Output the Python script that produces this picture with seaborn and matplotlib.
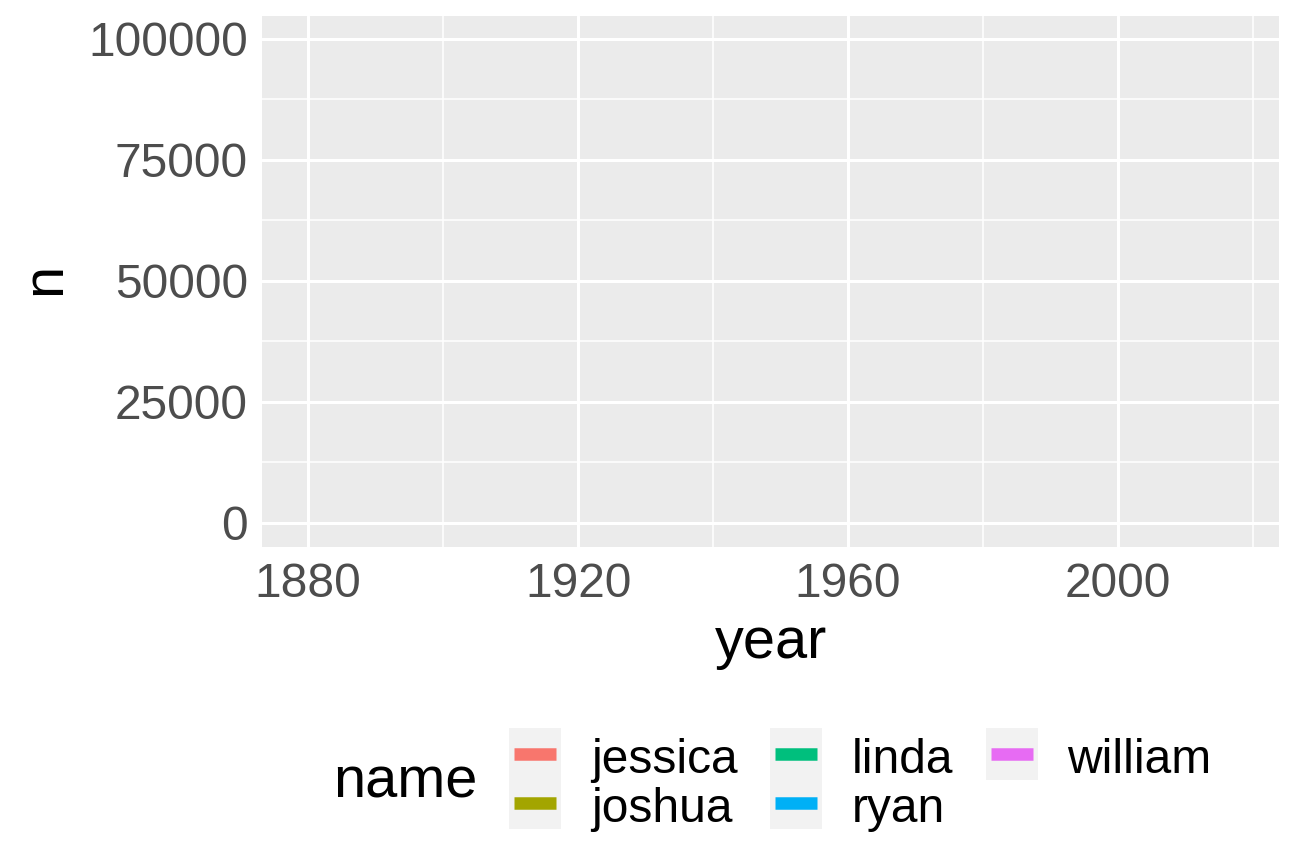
import matplotlib
matplotlib.use("Agg")
import matplotlib.pyplot as plt
import matplotlib.ticker as mticker
from matplotlib.lines import Line2D
from matplotlib.patches import Rectangle
from matplotlib.legend_handler import HandlerLine2D
import seaborn as sns
import pandas as pd

#### Data
names = ["jessica", "joshua", "linda", "ryan", "william"]
name_colors = ["#F8766D", "#A3A500", "#00BF7D", "#00B0F6", "#E76BF3"]
year_range = [1880, 2017]
n_range = [0, 99689]
x_major = [1880, 1920, 1960, 2000]
x_minor = [1900, 1940, 1980, 2020]
y_major = [0, 25000, 50000, 75000, 100000]
y_minor = [12500, 37500, 62500, 87500]

frame = pd.DataFrame({"name": names, "color": name_colors})

#### Theme (ggplot grey look)
sns.set_theme(style="darkgrid", rc={
    "axes.facecolor": "#EBEBEB",
    "grid.color": "white",
    "axes.edgecolor": "none",
    "text.color": "black",
})
plt.rcParams["font.family"] = ["Liberation Sans", "DejaVu Sans"]

tick_size = 34.5
title_size = 41.5

fig = plt.figure(figsize=(12.96, 8.64), dpi=100)
ax = fig.add_axes([262/1296, 1 - 547/864, 1017/1296, 531/864])


def expand(r, mult=0.05):
    span = r[1] - r[0]
    return r[0] - span * mult, r[1] + span * mult


ax.set_xlim(*expand(year_range))
ax.set_ylim(*expand(n_range))
ax.xaxis.set_major_locator(mticker.FixedLocator(x_major))
ax.xaxis.set_minor_locator(mticker.FixedLocator(x_minor))
ax.yaxis.set_major_locator(mticker.FixedLocator(y_major))
ax.yaxis.set_minor_locator(mticker.FixedLocator(y_minor))
ax.yaxis.set_major_formatter(mticker.FuncFormatter(lambda v, p: f"{int(v)}"))
ax.xaxis.set_major_formatter(mticker.FuncFormatter(lambda v, p: f"{int(v)}"))

ax.grid(which="major", color="white", linewidth=2.2)
ax.grid(which="minor", color="white", linewidth=1.1)
ax.tick_params(which="major", length=6.2, width=2.3, color="#333333",
               labelsize=tick_size, labelcolor="#4D4D4D")
ax.tick_params(axis="x", pad=4.5)
ax.tick_params(axis="y", pad=4)
ax.tick_params(which="minor", length=0)
for s in ax.spines.values():
    s.set_visible(False)

fig.text(771/1296, 1 - 658/864, "year", ha="center", va="baseline",
         fontsize=title_size, color="black")
fig.text(60/1296, 1 - 279/864, "n", ha="center", va="baseline", rotation=90,
         rotation_mode="anchor", fontsize=title_size, color="black")


#### Legend with grey key boxes
class KeyHandler(HandlerLine2D):
    def create_artists(self, legend, orig_handle, xdescent, ydescent,
                       width, height, fontsize, trans):
        full_h = height + ydescent
        bg = Rectangle((-xdescent, -ydescent), width, full_h,
                       facecolor="#F2F2F2", edgecolor="none", transform=trans)
        inset = width * 0.1
        yc = -ydescent + full_h / 2
        ln = Line2D([-xdescent + inset, -xdescent + width - inset], [yc, yc],
                    color=orig_handle.get_color(), linewidth=9,
                    solid_capstyle="butt", transform=trans)
        return [bg, ln]


handles = [Line2D([], [], color=c) for c in frame["color"]]
fs_px = tick_size * 100 / 72
leg = fig.legend(handles, list(frame["name"]), ncol=3,
                 loc="upper left", bbox_to_anchor=(509/1296, 1 - 734/864),
                 frameon=False, fontsize=tick_size, borderpad=0, borderaxespad=0,
                 handlelength=52/fs_px, handleheight=52/fs_px, labelspacing=0,
                 handletextpad=0.62, columnspacing=0.68,
                 labelcolor="black",
                 handler_map={Line2D: KeyHandler()})
fig.text(333/1296, 1 - 798/864, "name", ha="left", va="baseline",
         fontsize=title_size, color="black")

fig.savefig("out.png", dpi=100)
